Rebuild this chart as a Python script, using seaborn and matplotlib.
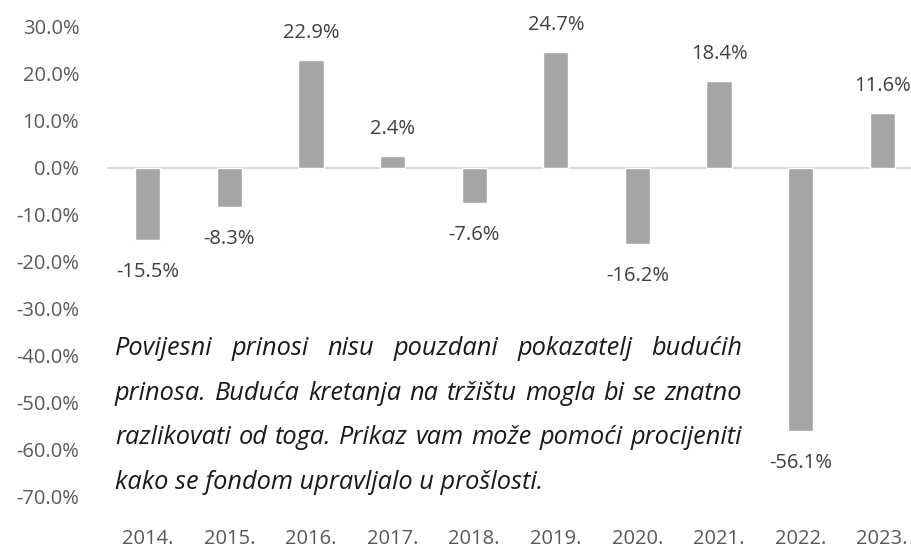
import matplotlib
matplotlib.use("Agg")
import matplotlib.pyplot as plt
import seaborn as sns
import pandas as pd

years = ['2014.', '2015.', '2016.', '2017.', '2018.', '2019.', '2020.', '2021.', '2022.', '2023.']
returns = [-15.5, -8.3, 22.9, 2.4, -7.6, 24.7, -16.2, 18.4, -56.1, 11.6]
y_ticks = [30, 20, 10, 0, -10, -20, -30, -40, -50, -60, -70]
note_lines = [
    "Povijesni prinosi nisu pouzdani pokazatelj budućih",
    "prinosa. Buduća kretanja na tržištu mogla bi se znatno",
    "razlikovati od toga. Prikaz vam može pomoći procijeniti",
    "kako se fondom upravljalo u prošlosti.",
]

sns.set_style("white")
plt.rcParams['font.family'] = ['Open Sans', 'DejaVu Sans']

df = pd.DataFrame({'year': years, 'ret': returns})

fig = plt.figure(figsize=(9.12, 5.48), dpi=100)
W, H = 912, 548
ax = fig.add_axes([107 / W, 52 / H, 816 / W, 469 / H])

sns.barplot(data=df, x='year', y='ret', color='#A5A5A5', width=0.31,
            saturation=1, ax=ax)
ax.set_xlim(-0.5, 9.5)
ax.set_ylim(-70, 30)
ax.axhline(0, color='#D9D9D9', lw=1.5, zorder=0)

ax.set_yticks(y_ticks)
ax.set_yticklabels([f"{v:.1f}%" for v in y_ticks])
ax.tick_params(axis='y', length=0, pad=20, labelsize=14.5, labelcolor='#595959')
ax.tick_params(axis='x', length=0, pad=24, labelsize=14.5, labelcolor='#595959')
ax.set_xlabel('')
ax.set_ylabel('')
for s in ax.spines.values():
    s.set_visible(False)

# value labels
for i, v in enumerate(returns):
    off = 19.5 if v >= 0 else -23
    ax.annotate(f"{v:.1f}%", (i, v), xytext=(0, off), textcoords='offset points',
                ha='center', va='center', fontsize=14.5, color='#404040')

# justified italic note
fig.canvas.draw()
renderer = fig.canvas.get_renderer()
left, right = 115 / W, 742 / W
baselines = [355, 400, 444, 489]
note_kw = dict(fontsize=18.3, style='italic', color='#1a1a1a', va='baseline', ha='left')
for k, line in enumerate(note_lines):
    y = 1 - baselines[k] / H
    if k == len(note_lines) - 1:
        fig.text(left, y, line, **note_kw)
        continue
    words = line.split(' ')
    texts = [fig.text(0, y, w, **note_kw) for w in words]
    widths = [t.get_window_extent(renderer).width / W for t in texts]
    gap = (right - left - sum(widths)) / (len(words) - 1)
    x = left
    for t, w in zip(texts, widths):
        t.set_x(x)
        x += w + gap

plt.savefig("out.png", dpi=100)
